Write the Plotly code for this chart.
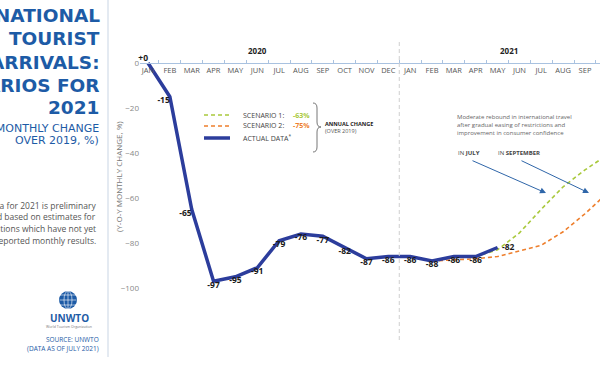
import plotly.graph_objects as go

# ---------------- data ----------------
months_2020 = ["JAN", "FEB", "MAR", "APR", "MAY", "JUN", "JUL", "AUG", "SEP", "OCT", "NOV", "DEC"]
months_2021 = ["JAN", "FEB", "MAR", "APR", "MAY", "JUN", "JUL", "AUG", "SEP", "OCT"]
month_labels = months_2020 + months_2021

actual = [0, -15, -65, -97, -95, -91, -79, -76, -77, -82, -87, -86, -86, -88, -86, -86, -82]
scenario1 = [-86, -83, -75.5, -65, -55, -47.5, -41]          # from APR 2021
scenario2 = [-88, -87.5, -87, -86, -83.5, -81, -75, -67, -58]  # from FEB 2021
scenario1_start = 15
scenario2_start = 13
y_ticks = [0, -20, -40, -60, -80, -100]
scenario_annual = ["-63%", "-75%"]

actual_labels = ["+0" if v == 0 else f"{v:d}" for v in actual]
x_actual = list(range(len(actual)))
x_s1 = list(range(scenario1_start, scenario1_start + len(scenario1)))
x_s2 = list(range(scenario2_start, scenario2_start + len(scenario2)))

# ---------------- style ----------------
W, H = 600, 372
ML, MR, MT, MB = 140, 0, 40, 32
BLUE = "#2c3d9c"
GREEN = "#a9c93c"
ORANGE = "#ee7f2d"
TITLE_BLUE = "#1d5ba6"
FONT = "Open Sans"

def PX(x):
    return (x - ML) / (W - ML - MR)

def PY(y):
    return (H - MB - y) / (H - MT - MB)

def note_ann(x, y, text, size, color, xanchor="center", family=FONT, **kw):
    d = dict(xref="paper", yref="paper", x=PX(x), y=PY(y), text=text, showarrow=False,
             xanchor=xanchor, yanchor="middle", font=dict(size=size, color=color, family=family))
    d.update(kw)
    return d

positions = ["bottom center"] * len(actual)
positions[0] = "top left"
positions[1] = "bottom left"
positions[2] = "bottom left"
positions[-1] = "middle right"
label_text = ["<b>" + t + "</b>" for t in actual_labels]
label_text[-1] = "\u00a0\u00a0" + label_text[-1]

fig = go.Figure()
fig.add_trace(go.Scatter(x=x_s1, y=scenario1, mode="lines",
                         line=dict(color=GREEN, width=1.6, dash="4px,3px"), hoverinfo="skip"))
fig.add_trace(go.Scatter(x=x_s2, y=scenario2, mode="lines",
                         line=dict(color=ORANGE, width=1.6, dash="4px,3px"), hoverinfo="skip"))
fig.add_trace(go.Scatter(x=x_actual, y=actual, mode="lines+text",
                         text=label_text,
                         textposition=positions,
                         textfont=dict(family=FONT, size=8.5, color="#1a1a1a"),
                         line=dict(color=BLUE, width=3.5), cliponaxis=False, hoverinfo="skip"))

px_per_month = 21.85
x_left = (ML - 148) / px_per_month
x_right = (W - MR - 148) / px_per_month
y_top = (63 - MT) / 2.25
y_bot = -(H - MB - 63) / 2.25

fig.update_layout(
    width=W, height=H,
    margin=dict(l=ML, r=MR, t=MT, b=MB),
    paper_bgcolor="white", plot_bgcolor="white",
    showlegend=False,
    font=dict(family=FONT, color="#555"),
    xaxis=dict(range=[x_left, x_right], tickmode="array",
               tickvals=list(range(len(month_labels))), ticktext=month_labels,
               anchor="free", position=PY(63), side="bottom",
               showline=True, linecolor="#a9c2e0", linewidth=1,
               ticks="", showgrid=False, zeroline=False,
               tickfont=dict(family=FONT, size=7.5, color="#555"),
               minor=dict(tickmode="linear", tick0=-0.5, dtick=1, ticks="inside",
                          ticklen=3, tickcolor="#a9c2e0", showgrid=False)),
    yaxis=dict(range=[y_bot, y_top], tickmode="array", tickvals=y_ticks,
               showgrid=False, zeroline=False, showline=False, ticks="",
               tickfont=dict(family=FONT, size=8, color="#888")),
)

shapes = []
annots = []

# divider between years
shapes.append(dict(type="line", xref="x", yref="paper", x0=11.5, x1=11.5, y0=0, y1=1,
                   line=dict(color="#cfcfcf", width=1, dash="4px,3px")))
annots.append(dict(xref="x", yref="paper", x=5, y=PY(50), text="<b>2020</b>", showarrow=False,
                   xanchor="center", yanchor="middle", font=dict(size=8, color="#222")))
annots.append(dict(xref="x", yref="paper", x=16.5, y=PY(50), text="<b>2021</b>", showarrow=False,
                   xanchor="center", yanchor="middle", font=dict(size=8, color="#222")))

# y axis title
annots.append(note_ann(118, 177, "(Y-O-Y MONTHLY CHANGE, %)", 8, "#777", textangle=-90))

# manual legend
leg = [("SCENARIO 1:", GREEN, "4px,3px", 1.6, 115, scenario_annual[0]),
       ("SCENARIO 2:", ORANGE, "4px,3px", 1.6, 126, scenario_annual[1]),
       ("ACTUAL DATA<sup>*</sup>", BLUE, "solid", 3.5, 138, None)]
for name, col, dash, w, yy, pct in leg:
    shapes.append(dict(type="line", xref="paper", yref="paper", x0=PX(204), x1=PX(230),
                       y0=PY(yy), y1=PY(yy), line=dict(color=col, width=w, dash=dash)))
    annots.append(note_ann(241, yy, name, 7, "#444", xanchor="left"))
    if pct:
        annots.append(note_ann(291, yy, "<b>" + pct + "</b>", 7, col, xanchor="left"))

# brace
x0, x1, x2 = PX(313), PX(317), PX(321)
yt, ym, yb = PY(103), PY(127), PY(152)
d = PY(0) - PY(5)
brace = (f"M {x0},{yt} Q {x1},{yt} {x1},{yt-d} L {x1},{ym+d} Q {x1},{ym} {x2},{ym} "
         f"Q {x1},{ym} {x1},{ym-d} L {x1},{yb+d} Q {x1},{yb} {x0},{yb}")
shapes.append(dict(type="path", xref="paper", yref="paper", path=brace,
                   line=dict(color="#777", width=1)))
annots.append(note_ann(323, 124, "<b>ANNUAL CHANGE</b>", 5.5, "#222", xanchor="left"))
annots.append(note_ann(323, 131, "(OVER 2019)", 5.5, "#555", xanchor="left"))

# commentary + arrows
annots.append(note_ann(455, 125, "Moderate rebound in international travel<br>after gradual easing of "
                                  "restrictions and<br>improvement in consumer confidence",
                       6, "#666", xanchor="left", align="left"))
annots.append(note_ann(456, 153, "IN <b>JULY</b>", 6, "#444", xanchor="left"))
annots.append(note_ann(496, 153, "IN <b>SEPTEMBER</b>", 6, "#444", xanchor="left"))
for (tx, ty), (hx, hy) in [((471, 160), (546, 193)), ((520, 160), (589, 193))]:
    annots.append(dict(xref="x", yref="y", axref="x", ayref="y",
                       x=(hx - 148) / px_per_month, y=-(hy - 63) / 2.25,
                       ax=(tx - 148) / px_per_month, ay=-(ty - 63) / 2.25,
                       text="", showarrow=True, arrowhead=2, arrowsize=1.2, arrowwidth=1,
                       arrowcolor="#2f66a9"))

# ---------------- left panel ----------------
shapes.append(dict(type="line", xref="paper", yref="paper", x0=PX(108), x1=PX(108),
                   y0=PY(357), y1=PY(0), line=dict(color="#c9d5e4", width=1)))
title_lines = [("INTERNATIONAL", 16), ("TOURIST", 39), ("ARRIVALS:", 62), ("SCENARIOS FOR", 85), ("2021", 107)]
for t, yy in title_lines:
    annots.append(note_ann(102, yy, "<b>" + t + "</b>", 18.5, TITLE_BLUE, xanchor="right",
                           family="DejaVu Sans"))
for t, yy in [("(Y-O-Y MONTHLY CHANGE", 128), ("OVER 2019, %)", 140)]:
    annots.append(note_ann(101, yy, t, 11, TITLE_BLUE, xanchor="right", family="DejaVu Sans"))
note = ["*Data for 2021 is preliminary", "and based on estimates for",
        "destinations which have not yet", "reported monthly results."]
for i, t in enumerate(note):
    annots.append(note_ann(98, 205 + i * 11.7, t, 8.5, "#555", xanchor="right"))

# logo
shapes.append(dict(type="circle", xref="paper", yref="paper", x0=PX(59), x1=PX(77), y0=PY(309), y1=PY(291),
                   fillcolor=TITLE_BLUE, line=dict(color=TITLE_BLUE, width=0)))
shapes.append(dict(type="circle", xref="paper", yref="paper", x0=PX(64), x1=PX(72), y0=PY(309), y1=PY(291),
                   line=dict(color="white", width=0.6)))
for yy in [295, 300, 305]:
    shapes.append(dict(type="line", xref="paper", yref="paper", x0=PX(59.5), x1=PX(76.5), y0=PY(yy), y1=PY(yy),
                       line=dict(color="white", width=0.6)))
shapes.append(dict(type="line", xref="paper", yref="paper", x0=PX(68), x1=PX(68), y0=PY(309), y1=PY(291),
                   line=dict(color="white", width=0.6)))
annots.append(note_ann(69, 318, "<b>UNWTO</b>", 10, TITLE_BLUE))
annots.append(note_ann(69, 326, "World Tourism Organization", 3.5, "#777"))
for t, yy in [("SOURCE: UNWTO", 339), ("(DATA AS OF JULY 2021)", 348)]:
    annots.append(note_ann(101, yy, t, 6.5, TITLE_BLUE, xanchor="right"))

fig.update_layout(shapes=shapes, annotations=annots)
fig.write_html("out.html", config={"displayModeBar": False},
               post_script="document.body.style.margin='0';document.body.style.padding='0';")
